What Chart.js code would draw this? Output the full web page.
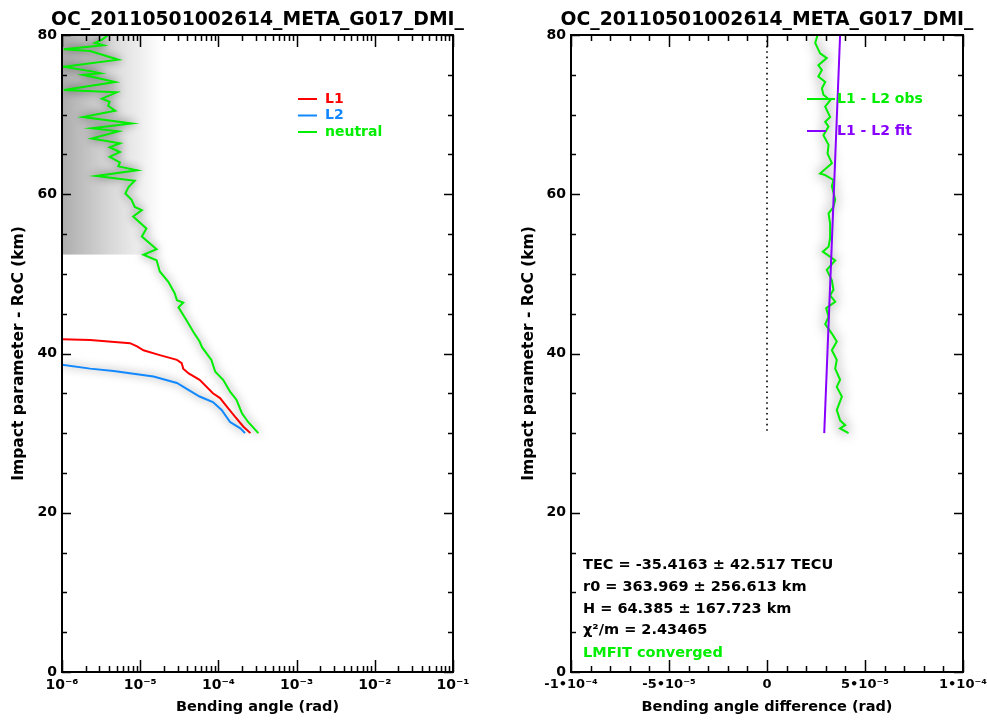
<!DOCTYPE html>
<html><head><meta charset="utf-8">
<script src="https://cdn.jsdelivr.net/npm/chart.js@4.4.1/dist/chart.umd.min.js"></script>
<style>
html,body{margin:0;padding:0;background:#fff;}
#wrap{position:relative;width:987px;height:720px;overflow:hidden;}
.box{position:absolute;top:0;height:720px;}
#b1{left:0;width:493px;} #b2{left:493px;width:494px;}
</style></head><body>
<div id="wrap">
<div class="box" id="b1"><canvas id="c1" width="493" height="720"></canvas></div>
<div class="box" id="b2"><canvas id="c2" width="494" height="720"></canvas></div>
</div>
<script>
// ---------------- data ----------------
const chartTitle = "OC_20110501002614_META_G017_DMI_";
const yTitle = "Impact parameter - RoC (km)";
const xTitleLeft = "Bending angle (rad)";
const xTitleRight = "Bending angle difference (rad)";

const neutralKm = [80.0,79.4,79.0,78.7,78.2,78.0,76.9,76.0,75.4,75.2,75.0,74.1,73.1,72.8,72.0,71.6,71.1,70.5,69.7,68.9,68.3,67.9,67.0,66.4,65.9,65.3,64.7,64.0,63.5,63.0,62.3,61.7,60.9,60.1,59.3,58.4,58.0,57.2,55.7,54.7,53.1,52.4,51.7,50.3,49.0,47.6,46.7,46.4,45.8,44.2,42.7,41.5,40.8,39.2,37.7,36.7,35.2,34.2,32.5,31.4,30.0];
const neutralAngle = [3.89e-6,3.24e-6,2.63e-6,3.39e-6,1.05e-6,2.29e-6,5.25e-6,1.05e-6,2.51e-6,3.09e-6,1.86e-6,4.79e-6,1.05e-6,5.01e-6,3.24e-6,4.07e-6,3.89e-6,4.79e-6,1.86e-6,7.76e-6,2.40e-6,5.25e-6,2.40e-6,5.50e-6,4.07e-6,5.50e-6,4.07e-6,5.50e-6,5.25e-6,9.12e-6,2.75e-6,8.51e-6,7.08e-6,6.46e-6,7.76e-6,8.51e-6,1.05e-5,8.13e-6,1.20e-5,1.05e-5,1.62e-5,1.10e-5,1.62e-5,1.78e-5,2.29e-5,2.75e-5,2.95e-5,3.55e-5,3.09e-5,3.89e-5,4.79e-5,5.75e-5,6.17e-5,8.13e-5,9.12e-5,1.15e-4,1.41e-4,1.70e-4,2.00e-4,2.40e-4,3.24e-4];

const l1Km = [41.8,41.7,41.3,40.9,40.4,39.8,39.2,38.8,38.1,37.5,36.7,35.0,34.4,33.3,32.1,30.8,30.0];
const l1Angle = [1.0e-6,2.29e-6,7.41e-6,9.12e-6,1.10e-5,1.78e-5,2.95e-5,3.39e-5,3.55e-5,4.17e-5,5.75e-5,8.51e-5,1.05e-4,1.29e-4,1.62e-4,2.09e-4,2.57e-4];

const l2Km = [38.6,38.1,37.8,37.1,36.3,35.6,34.6,33.9,32.9,31.4,30.6,30.0];
const l2Angle = [1.0e-6,2.29e-6,4.57e-6,1.48e-5,2.95e-5,3.89e-5,5.75e-5,8.51e-5,1.10e-4,1.41e-4,1.91e-4,2.19e-4];

// upper-atmosphere spread (grey cloud) outer edge
const cloudKm = [80,77,69,63,57,53,52.4];
const cloudEdge = [2.6e-5,2.6e-5,2.7e-5,2.9e-5,2.9e-5,3.0e-5,3.0e-5];

const obsKm = [79.9,79.0,77.7,77.1,76.2,75.6,74.8,74.1,73.3,72.5,71.8,71.0,69.7,69.1,68.5,67.4,66.2,65.1,63.9,62.6,62.4,61.8,61.0,59.3,58.4,57.6,56.3,54.5,53.4,52.8,51.7,50.5,49.2,48.0,47.3,46.5,45.7,44.6,43.7,42.5,41.5,40.4,39.2,38.1,36.7,35.8,34.6,32.9,31.6,31.0,30.6,30.0];
const obsDiff = [2.57e-5,2.46e-5,2.71e-5,3.05e-5,2.62e-5,2.80e-5,2.62e-5,2.97e-5,2.80e-5,2.88e-5,3.22e-5,2.97e-5,3.22e-5,2.97e-5,3.14e-5,2.88e-5,3.14e-5,3.09e-5,3.31e-5,2.71e-5,2.97e-5,3.39e-5,3.31e-5,3.48e-5,3.39e-5,3.14e-5,3.22e-5,3.22e-5,3.14e-5,2.85e-5,3.48e-5,3.05e-5,3.31e-5,3.39e-5,3.22e-5,3.48e-5,3.02e-5,3.14e-5,2.97e-5,3.31e-5,3.56e-5,3.31e-5,3.56e-5,3.48e-5,3.73e-5,3.56e-5,3.82e-5,3.56e-5,3.73e-5,3.99e-5,3.73e-5,4.16e-5];

const fitKm = [80,30];
const fitDiff = [3.73e-5,2.92e-5];

const zeroKm = [80,30];
const zeroDiff = [0,0];

const yMajorLabels = ['0','20','40','60','80'];
const rightXLabels = ['-1\u202210\u207B\u2074','-5\u202210\u207B\u2075','0','5\u202210\u207B\u2075','1\u202210\u207B\u2074'];

const statLines = ['TEC = -35.4163 \u00B1 42.517 TECU','r0 = 363.969 \u00B1 256.613 km','H = 64.385 \u00B1 167.723 km','\u03C7\u00B2/m = 2.43465','LMFIT converged'];
const statColors = ['#000','#000','#000','#000','#00ee00'];

// --------------- helpers ---------------
const FONT = '"DejaVu Sans", "Liberation Sans", Arial, sans-serif';
const RED = '#ff0000', BLUE = '#1188ff', GREEN = '#00ee00', PURPLE = '#8800ff';
const pts = (ys, xs) => ys.map((y, i) => ({x: xs[i], y}));
const supMap = {'-':'\u207B','0':'\u2070','1':'\u00B9','2':'\u00B2','3':'\u00B3','4':'\u2074','5':'\u2075','6':'\u2076','7':'\u2077','8':'\u2078','9':'\u2079'};
const sup = s => String(s).split('').map(c => supMap[c]).join('');

const panelTitle = {
  id: 'panelTitle',
  afterDraw(chart) {
    const {ctx, chartArea: a} = chart;
    ctx.save();
    ctx.font = 'bold 18.8px ' + FONT;
    ctx.fillStyle = '#000';
    ctx.textAlign = 'center';
    ctx.textBaseline = 'middle';
    ctx.fillText(chartTitle, (a.left + a.right) / 2, a.top - 15);
    ctx.restore();
  }
};

const frameTicks = {
  id: 'frameTicks',
  afterDraw(chart) {
    const {ctx, chartArea: a, scales} = chart;
    const xs = scales.x, ys = scales.y;
    ctx.save();
    ctx.strokeStyle = '#000';
    ctx.lineWidth = 1.5;
    ctx.beginPath();
    for (const t of xs.ticks) {
      const p = Math.round(xs.getPixelForValue(t.value)) + 0.5;
      const L = t.label ? 12 : 6;
      ctx.moveTo(p, a.bottom); ctx.lineTo(p, a.bottom - L);
      ctx.moveTo(p, a.top); ctx.lineTo(p, a.top + L);
    }
    for (const t of ys.ticks) {
      const p = Math.round(ys.getPixelForValue(t.value)) + 0.5;
      const L = t.label ? 9 : 5;
      ctx.moveTo(a.left, p); ctx.lineTo(a.left + L, p);
      ctx.moveTo(a.right, p); ctx.lineTo(a.right - L, p);
    }
    ctx.stroke();
    ctx.lineWidth = 2;
    ctx.strokeRect(a.left, a.top, a.right - a.left, a.bottom - a.top);
    ctx.restore();
  }
};

const halo = {
  id: 'halo',
  beforeDatasetDraw(chart, args) {
    const ds = chart.data.datasets[args.index];
    if (ds.halo) {
      chart.ctx.save();
      chart.ctx.shadowColor = ds.halo;
      chart.ctx.shadowBlur = ds.haloBlur || 9;
    }
  },
  afterDatasetDraw(chart, args) {
    const ds = chart.data.datasets[args.index];
    if (ds.halo) chart.ctx.restore();
  }
};

function legendPlugin(id, rows) {
  return {
    id,
    afterDraw(chart) {
      const {ctx, chartArea: a} = chart;
      ctx.save();
      ctx.font = 'bold 14px ' + FONT;
      ctx.textBaseline = 'middle';
      ctx.textAlign = 'left';
      for (const r of rows) {
        const ds = chart.data.datasets[r.ds];
        ctx.strokeStyle = ds.borderColor;
        ctx.lineWidth = 2;
        ctx.beginPath();
        ctx.moveTo(a.left + r.x1, a.top + r.y);
        ctx.lineTo(a.left + r.x2, a.top + r.y);
        ctx.stroke();
        ctx.fillStyle = ds.borderColor;
        ctx.fillText(ds.label, a.left + r.tx, a.top + r.y);
      }
      ctx.restore();
    }
  };
}

const statsPlugin = {
  id: 'stats',
  afterDraw(chart) {
    const {ctx, chartArea: a} = chart;
    ctx.save();
    ctx.font = 'bold 14.5px ' + FONT;
    ctx.textBaseline = 'middle';
    const ys = [530, 552, 574, 595, 618];
    statLines.forEach((s, i) => {
      ctx.fillStyle = statColors[i];
      ctx.fillText(s, a.left + 12, a.top + ys[i]);
    });
    ctx.restore();
  }
};

function yAxis(width, titlePad) {
  return {
    type: 'linear', min: 0, max: 80,
    grid: {display: false, drawTicks: false},
    border: {display: false},
    afterFit: s => { s.width = width; s.paddingTop = 0; s.paddingBottom = 0; },
    ticks: {
      stepSize: 5, autoSkip: false, padding: 5, color: '#000',
      font: {family: FONT, size: 14, weight: 'bold'},
      callback: v => (v % 20 === 0 ? yMajorLabels[v / 20] : '')
    },
    title: {display: true, text: yTitle, color: '#000', padding: {top: titlePad, bottom: 0},
      font: {family: FONT, size: 15.5, weight: 'bold'}}
  };
}

function xFit(s) { s.height = 48; s.paddingLeft = 0; s.paddingRight = 0; }

// --------------- left chart ---------------
new Chart(document.getElementById('c1'), {
  type: 'line',
  data: {
    datasets: [
      {label: 'L1', data: pts(l1Km, l1Angle), borderColor: RED, borderWidth: 2, pointRadius: 0, fill: false, order: 1},
      {label: 'L2', data: pts(l2Km, l2Angle), borderColor: BLUE, borderWidth: 2, pointRadius: 0, fill: false, halo: 'rgba(0,0,0,0.5)', haloBlur: 8, order: 2},
      {label: 'neutral', data: pts(neutralKm, neutralAngle), borderColor: GREEN, borderWidth: 2, pointRadius: 0, fill: false, halo: 'rgba(0,0,0,0.6)', haloBlur: 10, order: 0},
      {label: 'spread', data: pts(cloudKm, cloudEdge), borderWidth: 0, borderColor: 'rgba(0,0,0,0)', pointRadius: 0,
        fill: {value: 1e-6}, order: 5,
        backgroundColor: (c) => {
          const a = c.chart.chartArea;
          if (!a) return 'rgba(0,0,0,0)';
          const g = c.chart.ctx.createLinearGradient(a.left, 0, a.left + 100, 0);
          g.addColorStop(0, 'rgba(0,0,0,0.32)');
          g.addColorStop(0.5, 'rgba(0,0,0,0.15)');
          g.addColorStop(1, 'rgba(0,0,0,0)');
          return g;
        }}
    ]
  },
  options: {
    responsive: false, animation: false, indexAxis: 'y',
    layout: {padding: {left: 0, right: 40, top: 35, bottom: 0}},
    plugins: {legend: {display: false}, tooltip: {enabled: false}, title: {display: false}},
    scales: {
      x: {
        type: 'logarithmic', min: 1e-6, max: 1e-1, position: 'bottom',
        grid: {display: false, drawTicks: false}, border: {display: false},
        afterFit: xFit,
        afterBuildTicks: s => {
          s.ticks = s.ticks.filter(t => {
            const m = t.value / Math.pow(10, Math.floor(Math.log10(t.value) + 1e-9));
            return Math.abs(m - Math.round(m)) < 1e-6;
          });
        },
        ticks: {
          autoSkip: false, maxRotation: 0, padding: 5, color: '#000',
          font: {family: FONT, size: 14, weight: 'bold'},
          callback: v => {
            const e = Math.log10(v);
            return Math.abs(e - Math.round(e)) < 1e-6 ? '10' + sup(Math.round(e)) : '';
          }
        },
        title: {display: true, text: xTitleLeft, color: '#000', padding: {top: 0, bottom: 4},
          font: {family: FONT, size: 14.5, weight: 'bold'}}
      },
      y: yAxis(62, 10)
    }
  },
  plugins: [halo, frameTicks, panelTitle, legendPlugin('legL', [
    {ds: 0, x1: 236, x2: 255, tx: 263, y: 64},
    {ds: 1, x1: 236, x2: 255, tx: 263, y: 80.5},
    {ds: 2, x1: 236, x2: 255, tx: 263, y: 97}
  ])]
});

// --------------- right chart ---------------
new Chart(document.getElementById('c2'), {
  type: 'line',
  data: {
    datasets: [
      {label: 'L1 - L2 obs', data: pts(obsKm, obsDiff), borderColor: GREEN, borderWidth: 2, pointRadius: 0, fill: false, halo: 'rgba(0,0,0,0.75)', haloBlur: 12, order: 1},
      {label: 'L1 - L2 fit', data: pts(fitKm, fitDiff), borderColor: PURPLE, borderWidth: 2, pointRadius: 0, fill: false, order: 0},
      {label: 'zero', data: pts(zeroKm, zeroDiff), borderColor: '#000', borderWidth: 1.6, borderDash: [1.6, 3.8], pointRadius: 0, fill: false, order: 2}
    ]
  },
  options: {
    responsive: false, animation: false, indexAxis: 'y',
    layout: {padding: {left: 0, right: 24, top: 35, bottom: 0}},
    plugins: {legend: {display: false}, tooltip: {enabled: false}, title: {display: false}},
    scales: {
      x: {
        type: 'linear', min: -1e-4, max: 1e-4, position: 'bottom',
        grid: {display: false, drawTicks: false}, border: {display: false},
        afterFit: xFit,
        ticks: {
          stepSize: 1e-5, autoSkip: false, maxRotation: 0, padding: 5, color: '#000',
          font: {family: FONT, size: 13, weight: 'bold'},
          callback: v => {
            const r = v / 5e-5;
            return Math.abs(r - Math.round(r)) < 1e-6 ? rightXLabels[Math.round(r) + 2] : '';
          }
        },
        title: {display: true, text: xTitleRight, color: '#000', padding: {top: 0, bottom: 4},
          font: {family: FONT, size: 14.5, weight: 'bold'}}
      },
      y: yAxis(78, 27)
    }
  },
  plugins: [halo, frameTicks, panelTitle, statsPlugin, legendPlugin('legR', [
    {ds: 0, x1: 236, x2: 264, tx: 266, y: 64},
    {ds: 1, x1: 236, x2: 255, tx: 266, y: 96}
  ])]
});
</script>
</body></html>
